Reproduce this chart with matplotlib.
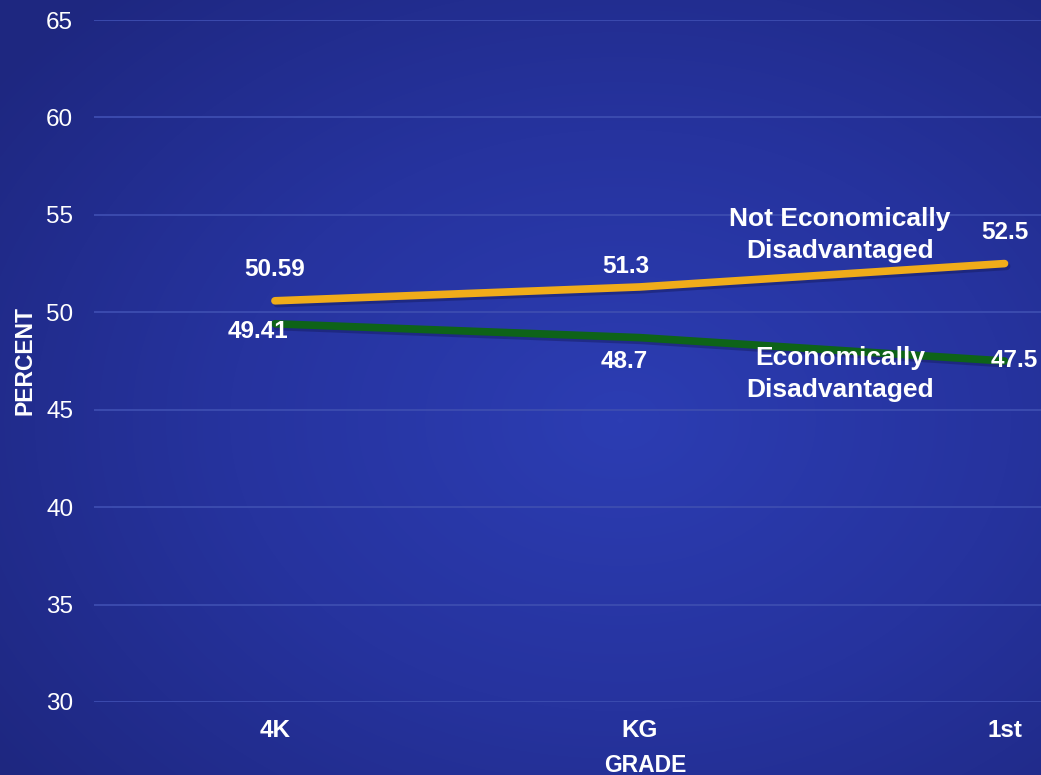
import numpy as np
import matplotlib.pyplot as plt
import matplotlib.patheffects as pe
from matplotlib.colors import LinearSegmentedColormap

plt.rcParams['font.family'] = ['Liberation Sans', 'DejaVu Sans']

grades = ['4K', 'KG', '1st']
not_econ = [50.59, 51.3, 52.5]
econ = [49.41, 48.7, 47.5]

# label offsets in pixels (dx, dy)
not_econ_off = [(0, 31), (-14, 20), (0, 31)]
econ_off = [(-17, -8), (-15, -24), (10, 1)]

fig = plt.figure(figsize=(10.41, 7.75), dpi=100)

# radial gradient background
bg = fig.add_axes([0, 0, 1, 1])
h, w = 775, 1041
yy, xx = np.mgrid[0:h, 0:w]
r = np.sqrt(((xx - 620) / w) ** 2 + ((yy - 420) / h) ** 2)
r = np.clip(r / 0.75, 0, 1)
cmap = LinearSegmentedColormap.from_list('bg', ['#2c3db3', '#26339e', '#1e2780'])
bg.imshow(r, cmap=cmap, aspect='auto', extent=[0, 1, 0, 1], origin='upper')
bg.axis('off')

ax = fig.add_axes([94 / 1041, 1 - 702 / 775, 1 - 94 / 1041, (702 - 20) / 775])
ax.patch.set_alpha(0)
x = np.arange(len(grades))

shadow = [pe.SimpleLineShadow(offset=(1.5, -2), shadow_color='#141a5c', alpha=0.45), pe.Normal()]
ax.plot(x, not_econ, color='#f0ac1a', lw=5.5, solid_capstyle='round', path_effects=shadow, zorder=3)
ax.plot(x, econ, color='#0e6318', lw=5.5, solid_capstyle='round', path_effects=shadow, zorder=3)

for xi, v, (dx, dy) in zip(x, not_econ, not_econ_off):
    ax.annotate(f'{v:g}', (xi, v), xytext=(dx, dy), textcoords='offset pixels',
                ha='center', va='center', color='white', fontsize=17.5, fontweight='bold')
for xi, v, (dx, dy) in zip(x, econ, econ_off):
    ax.annotate(f'{v:g}', (xi, v), xytext=(dx, dy), textcoords='offset pixels',
                ha='center', va='center', color='white', fontsize=17.5, fontweight='bold')

fig.text(840 / 1041, 1 - 235 / 775, 'Not Economically\nDisadvantaged', ha='center', va='center',
         color='white', fontsize=19, fontweight='bold', linespacing=1.38)
fig.text(840 / 1041, 1 - 374 / 775, 'Economically\nDisadvantaged', ha='center', va='center',
         color='white', fontsize=19, fontweight='bold', linespacing=1.38)

ax.set_xlim(-0.496, 2.1)
ax.set_ylim(30, 65)
ax.set_yticks(range(30, 66, 5))
ax.set_xticks(x)
ax.set_xticklabels(grades, fontweight='bold')
ax.tick_params(axis='both', length=0, colors='white', labelsize=17.5)
ax.tick_params(axis='x', pad=12)
ax.tick_params(axis='y', pad=15)
ax.grid(axis='y', color='#3d4db0', lw=1.3)
ax.set_axisbelow(True)
for s in ax.spines.values():
    s.set_visible(False)

fig.text(645 / 1041, 1 - 765 / 775, 'GRADE', ha='center', va='center', color='white',
         fontsize=16.5, fontweight='bold')
fig.text(25 / 1041, 1 - 360 / 775, 'PERCENT', ha='center', va='center', color='white',
         fontsize=16.5, fontweight='bold', rotation=90)

fig.savefig('out.png', dpi=100)
